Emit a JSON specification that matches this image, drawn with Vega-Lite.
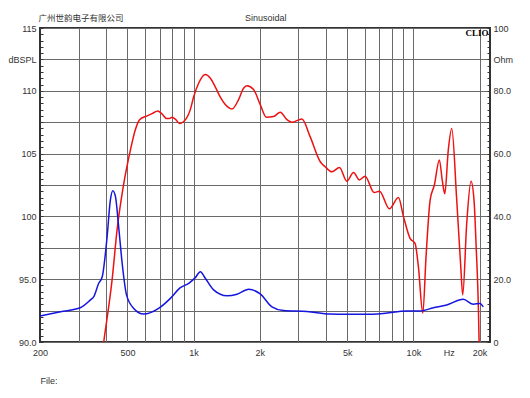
{
  "$schema": "https://vega.github.io/schema/vega-lite/v6.json",
  "width": 450,
  "height": 314,
  "autosize": {"type": "none"},
  "padding": {"left": 40, "top": 28, "right": 40, "bottom": 56},
  "background": "white",
  "config": {
    "view": {"stroke": "#333333", "strokeWidth": 2},
    "axis": {
      "labelFont": "Liberation Sans",
      "labelFontSize": 9,
      "labelColor": "#333333",
      "titleFont": "Liberation Sans",
      "titleFontSize": 9,
      "titleFontWeight": "normal",
      "titleColor": "#333333",
      "labelFlush": false,
      "labelOverlap": false,
      "labelBound": false,
      "domain": false,
      "gridColor": "#6a6a6a",
      "gridWidth": 1,
      "tickColor": "#333333"
    }
  },
  "resolve": {"scale": {"y": "independent"}, "axis": {"x": "independent", "y": "independent"}},
  "layer": [
    {
      "data": {"values": [
        {"f": 380, "spl": 88.5}, {"f": 390, "spl": 90.0}, {"f": 426, "spl": 95.0}, {"f": 449, "spl": 99.0},
        {"f": 481, "spl": 102.6}, {"f": 516, "spl": 105.3}, {"f": 543, "spl": 106.9}, {"f": 568, "spl": 107.7},
        {"f": 614, "spl": 108.0}, {"f": 650, "spl": 108.2}, {"f": 686, "spl": 108.4}, {"f": 719, "spl": 108.15},
        {"f": 752, "spl": 107.8}, {"f": 775, "spl": 107.8}, {"f": 798, "spl": 107.9}, {"f": 830, "spl": 107.7},
        {"f": 864, "spl": 107.4}, {"f": 927, "spl": 107.8}, {"f": 966, "spl": 108.5}, {"f": 1000, "spl": 109.5},
        {"f": 1054, "spl": 110.6}, {"f": 1130, "spl": 111.3}, {"f": 1192, "spl": 111.0}, {"f": 1256, "spl": 110.3},
        {"f": 1323, "spl": 109.5}, {"f": 1394, "spl": 108.9}, {"f": 1495, "spl": 108.55}, {"f": 1602, "spl": 109.3},
        {"f": 1688, "spl": 110.2}, {"f": 1749, "spl": 110.4}, {"f": 1874, "spl": 110.1}, {"f": 2010, "spl": 108.9},
        {"f": 2140, "spl": 107.9}, {"f": 2310, "spl": 107.95}, {"f": 2480, "spl": 108.3}, {"f": 2658, "spl": 107.7},
        {"f": 2800, "spl": 107.5}, {"f": 3110, "spl": 107.75}, {"f": 3390, "spl": 106.35}, {"f": 3770, "spl": 104.35},
        {"f": 3970, "spl": 103.95}, {"f": 4260, "spl": 103.55}, {"f": 4610, "spl": 103.9}, {"f": 4980, "spl": 102.8},
        {"f": 5340, "spl": 103.5}, {"f": 5680, "spl": 102.9}, {"f": 6030, "spl": 103.2}, {"f": 6630, "spl": 101.9},
        {"f": 7010, "spl": 102.0}, {"f": 7780, "spl": 100.6}, {"f": 8550, "spl": 101.5}, {"f": 9010, "spl": 100.0},
        {"f": 9660, "spl": 98.25}, {"f": 10180, "spl": 97.85}, {"f": 10540, "spl": 96.0}, {"f": 11040, "spl": 92.3},
        {"f": 11420, "spl": 96.8}, {"f": 11920, "spl": 101.3}, {"f": 12460, "spl": 102.5}, {"f": 13130, "spl": 104.5},
        {"f": 13550, "spl": 102.8}, {"f": 13900, "spl": 101.8}, {"f": 14420, "spl": 105.3}, {"f": 14950, "spl": 107.0},
        {"f": 15750, "spl": 101.3}, {"f": 16430, "spl": 96.0}, {"f": 16770, "spl": 93.75}, {"f": 17490, "spl": 99.45},
        {"f": 18300, "spl": 102.8}, {"f": 18880, "spl": 101.3}, {"f": 19280, "spl": 97.85}, {"f": 19900, "spl": 90.2},
        {"f": 20100, "spl": 85.0}
      ]},
      "mark": {"type": "line", "color": "#ee1111", "strokeWidth": 1.5, "interpolate": "monotone", "clip": true},
      "encoding": {
        "x": {
          "field": "f", "type": "quantitative",
          "scale": {"type": "log", "domain": [200, 22320]},
          "axis": {
            "orient": "bottom",
            "values": [200, 500, 1000, 2000, 5000, 10000, 14500, 20000],
            "labelExpr": "datum.value == 14500 ? 'Hz' : (datum.value >= 1000 ? (datum.value / 1000) + 'k' : datum.value + '')",
            "grid": false, "ticks": false, "labelPadding": 6,
            "title": "File:", "titleAnchor": "start", "titleAlign": "left", "titlePadding": 19
          }
        },
        "y": {
          "field": "spl", "type": "quantitative",
          "scale": {"domain": [90, 115]},
          "axis": {
            "orient": "left",
            "values": [90, 90.5, 91, 91.5, 92, 92.5, 93, 93.5, 94, 94.5, 95, 95.5, 96, 96.5, 97, 97.5, 98, 98.5, 99, 99.5, 100, 100.5, 101, 101.5, 102, 102.5, 103, 103.5, 104, 104.5, 105, 105.5, 106, 106.5, 107, 107.5, 108, 108.5, 109, 109.5, 110, 110.5, 111, 111.5, 112, 112.5, 113, 113.5, 114, 114.5, 115],
            "labelExpr": "datum.value == 112.5 ? 'dBSPL' : (datum.value % 5 == 0 ? (datum.value >= 100 ? format(datum.value, 'd') : format(datum.value, '.1f')) : '')",
            "grid": true,
            "gridOpacity": {"condition": {"test": "datum.value % 2.5 == 0", "value": 1}, "value": 0},
            "tickSize": -3,
            "labelPadding": 7,
            "title": null
          }
        }
      }
    },
    {
      "data": {"values": [
        {"f": 200, "ohm": 8.3}, {"f": 248, "ohm": 9.65}, {"f": 305, "ohm": 10.9}, {"f": 339, "ohm": 13.4},
        {"f": 351, "ohm": 14.4}, {"f": 370, "ohm": 18.7}, {"f": 384, "ohm": 20.8}, {"f": 404, "ohm": 33.5},
        {"f": 418, "ohm": 45.2}, {"f": 429, "ohm": 48.2}, {"f": 441, "ohm": 46.3}, {"f": 456, "ohm": 36.7},
        {"f": 473, "ohm": 25.1}, {"f": 495, "ohm": 15.0}, {"f": 534, "ohm": 10.7}, {"f": 593, "ohm": 8.9},
        {"f": 693, "ohm": 10.7}, {"f": 784, "ohm": 13.9}, {"f": 870, "ohm": 17.3}, {"f": 950, "ohm": 18.7},
        {"f": 1018, "ohm": 20.5}, {"f": 1073, "ohm": 22.4}, {"f": 1130, "ohm": 20.3}, {"f": 1233, "ohm": 16.6},
        {"f": 1419, "ohm": 14.7}, {"f": 1576, "ohm": 15.2}, {"f": 1780, "ohm": 16.8}, {"f": 2010, "ohm": 15.3},
        {"f": 2272, "ohm": 11.2}, {"f": 2566, "ohm": 10.0}, {"f": 3278, "ohm": 9.7}, {"f": 4180, "ohm": 8.9},
        {"f": 5000, "ohm": 8.8}, {"f": 6000, "ohm": 8.8}, {"f": 7300, "ohm": 9.1}, {"f": 9340, "ohm": 9.9},
        {"f": 10730, "ohm": 9.9}, {"f": 12330, "ohm": 10.9}, {"f": 14180, "ohm": 11.8}, {"f": 16870, "ohm": 13.6},
        {"f": 18750, "ohm": 12.0}, {"f": 20100, "ohm": 12.3}, {"f": 20800, "ohm": 11.2}
      ]},
      "mark": {"type": "line", "color": "#1515e0", "strokeWidth": 1.5, "interpolate": "monotone", "clip": true},
      "encoding": {
        "x": {
          "field": "f", "type": "quantitative",
          "scale": {"type": "log", "domain": [200, 22320]},
          "axis": {
            "orient": "bottom",
            "values": [300, 400, 500, 600, 700, 800, 900, 1000, 2000, 3000, 4000, 5000, 6000, 7000, 8000, 9000, 10000, 20000],
            "labels": false, "ticks": false, "grid": true, "title": null
          }
        },
        "y": {
          "field": "ohm", "type": "quantitative",
          "scale": {"domain": [0, 100]},
          "axis": {
            "orient": "right",
            "values": [0, 2, 4, 6, 8, 10, 12, 14, 16, 18, 20, 22, 24, 26, 28, 30, 32, 34, 36, 38, 40, 42, 44, 46, 48, 50, 52, 54, 56, 58, 60, 62, 64, 66, 68, 70, 72, 74, 76, 78, 80, 82, 84, 86, 88, 90, 92, 94, 96, 98, 100],
            "labelExpr": "datum.value == 90 ? 'Ohm' : (datum.value % 20 == 0 ? ((datum.value == 0 || datum.value == 100) ? datum.value + '' : format(datum.value, '.1f')) : '')",
            "grid": false,
            "tickSize": -3,
            "labelPadding": 6,
            "title": null
          }
        }
      }
    },
    {
      "data": {"values": [{"t": "CLIO"}]},
      "mark": {"type": "text", "font": "Liberation Serif", "fontWeight": "bold", "fontSize": 9, "align": "right", "baseline": "alphabetic", "color": "#000000"},
      "encoding": {
        "text": {"field": "t"},
        "x": {
          "datum": 22000, "type": "quantitative",
          "scale": {"type": "log", "domain": [200, 22320]},
          "axis": {
            "orient": "top",
            "values": [305.5, 2118],
            "labelExpr": "datum.value < 1000 ? '广州世韵电子有限公司' : 'Sinusoidal'",
            "labelFont": "Liberation Sans, Noto Sans CJK SC",
            "labelFontSize": {"condition": {"test": "datum.value < 1000", "value": 8.5}, "value": 9},
            "ticks": false, "grid": false, "labelPadding": 5.5, "title": null
          }
        },
        "y": {"datum": 114.4, "type": "quantitative", "scale": {"domain": [90, 115]}, "axis": null}
      }
    }
  ]
}
